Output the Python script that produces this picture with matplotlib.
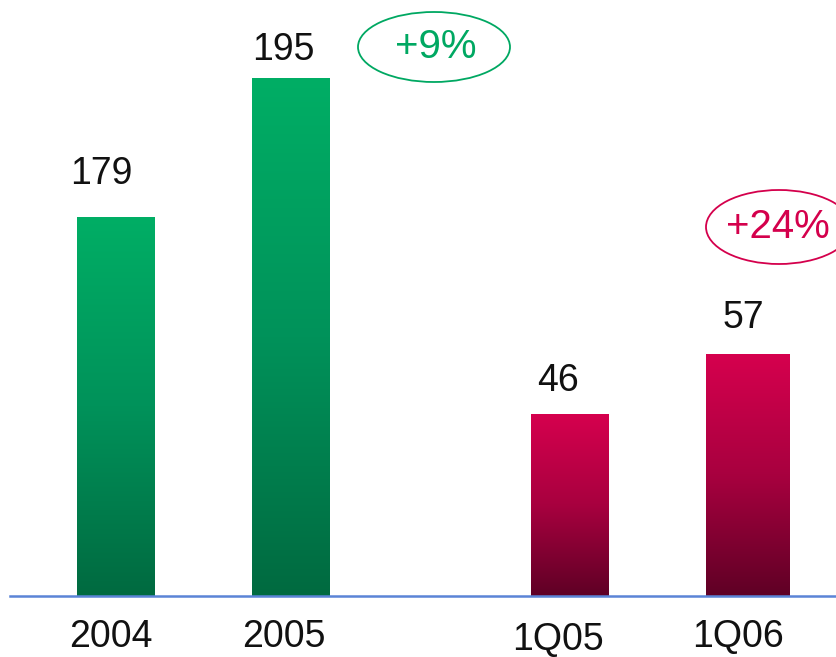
import matplotlib
matplotlib.use("Agg")
import matplotlib.pyplot as plt
import numpy as np
from matplotlib.colors import LinearSegmentedColormap
from matplotlib.patches import Ellipse
from matplotlib.transforms import IdentityTransform
from matplotlib import font_manager

# ---- data ----
annual_labels = ["2004", "2005"]
annual_values = [179, 195]
quarter_labels = ["1Q05", "1Q06"]
quarter_values = [46, 57]
annual_growth = "+9%"
quarter_growth = "+24%"

W, H = 837, 657
fig = plt.figure(figsize=(W / 100, H / 100), dpi=100)

names = {f.name for f in font_manager.fontManager.ttflist}
FONT = ["Liberation Sans Narrow", "DejaVu Sans"] if "Liberation Sans Narrow" in names else ["Liberation Sans", "DejaVu Sans"]
narrow = "Liberation Sans Narrow" in names
FS = 28 if narrow else 27

base_px = 596  # baseline pixel from top
rect = [0, (H - base_px) / H, 1, base_px / H]

ax_a = fig.add_axes(rect)
ax_q = fig.add_axes(rect)
for ax in (ax_a, ax_q):
    ax.axis("off")
    ax.patch.set_alpha(0)

x_a = [0, 1]
x_q = [2.59, 3.61]

green = LinearSegmentedColormap.from_list("g", ["#006A40", "#00925A", "#00AE65"])
red = LinearSegmentedColormap.from_list("r", ["#5F0025", "#A8003F", "#D6004E"])


def grad_bars(ax, xs, vals, widths, cmap, bottom):
    bars = ax.bar(xs, [v - bottom for v in vals], bottom=bottom, width=widths,
                  color="none", edgecolor="none")
    grad = np.linspace(0, 1, 256).reshape(-1, 1)
    for b in bars:
        x0, y0 = b.get_x(), b.get_y()
        im = ax.imshow(grad, cmap=cmap, origin="lower", aspect="auto",
                       extent=(x0, x0 + b.get_width(), y0, y0 + b.get_height()),
                       zorder=2, interpolation="bilinear")
        im.set_clip_path(b)
    return bars


bars_a = grad_bars(ax_a, x_a, annual_values, [0.44, 0.44], green, 135.4)
bars_q = grad_bars(ax_q, x_q, quarter_values, [0.44, 0.475], red, 12.63)
for ax in (ax_a, ax_q):
    ax.set_xlim(-0.66, 4.12)
# separate (broken) scales for each pair, as in the original slide
ax_a.set_ylim(135.4, 135.4 + base_px / 8.6875)
ax_q.set_ylim(12.63, 12.63 + base_px / 5.4545)

# value labels (offsets in points)
offs_a = [(-10, 31), (-5, 20)]
offs_q = [(-8, 24), (-3, 26)]
for ax, bars, vals, offs in ((ax_a, bars_a, annual_values, offs_a),
                             (ax_q, bars_q, quarter_values, offs_q)):
    for b, v, o in zip(bars, vals, offs):
        ax.annotate(str(v), xy=(b.get_x() + b.get_width() / 2, v),
                    xytext=o, textcoords="offset points", ha="center", va="center",
                    fontsize=FS, family=FONT, color="#111111")

# baseline
fig.add_artist(plt.Line2D([10 / W, 1], [(H - base_px) / H] * 2, color="#5B84D6",
                          lw=1.8, transform=fig.transFigure))

# category labels
cat_pos = [(111, 637), (284, 637), (558, 640), (738, 637)]
for lab, (px, py) in zip(annual_labels + quarter_labels, cat_pos):
    fig.text(px / W, 1 - py / H, lab, ha="center", va="center", fontsize=FS,
             family=FONT, color="#111111")


def growth(txt, cx, cy, w, h, color, tx):
    e = Ellipse((cx, H - cy), w, h, fill=False, edgecolor=color, lw=1.3)
    e.set_transform(IdentityTransform())
    fig.add_artist(e)
    fig.text(tx / W, 1 - cy / H, txt, ha="center", va="center", fontsize=29,
             family=FONT, color=color)


growth(annual_growth, 434, 47, 152, 70, "#00A862", 436)
growth(quarter_growth, 779, 227, 146, 74, "#D4004C", 778)

fig.savefig("out.png", dpi=100)
